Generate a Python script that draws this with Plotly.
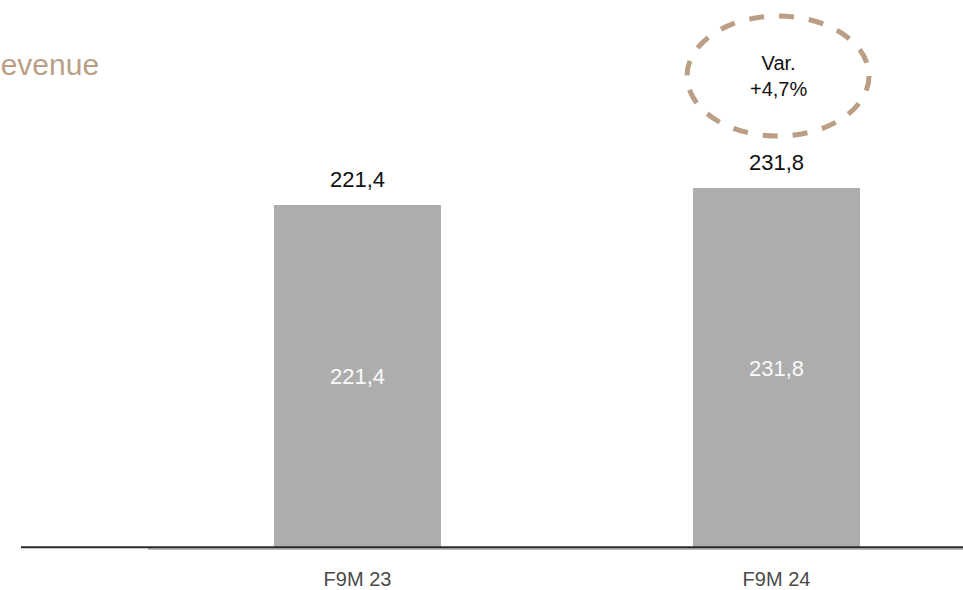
import plotly.graph_objects as go

categories = ["F9M 23", "F9M 24"]
values = [221.4, 231.8]
value_labels = ["221,4", "231,8"]
title_text = "Revenue"
variation_text = "Var.<br>+4,7%"

BAR = "#ADADAD"
TAN = "#BA9F86"
FONT = "Liberation Sans, Arial, sans-serif"

xpos = list(range(len(categories)))

fig = go.Figure()
fig.add_trace(go.Bar(
    x=xpos, y=values, width=0.4, marker=dict(color=BAR, line=dict(width=0)),
    text=value_labels, textposition="inside", insidetextanchor="middle",
    textfont=dict(color="#FAFAFA", size=22, family=FONT),
    hoverinfo="skip", showlegend=False,
))

for x, v, lab in zip(xpos, values, value_labels):
    fig.add_annotation(x=x, y=v, xref="x", yref="y", text=lab, showarrow=False,
                       xanchor="center", yanchor="bottom", yshift=11,
                       font=dict(size=22, color="#111111", family=FONT))

# title (partially cut off at left edge, as in reference)
fig.add_annotation(xref="paper", yref="paper", x=(-23 - 148) / 815, y=1 - 65 / 548,
                   xanchor="left", yanchor="middle", text=title_text, showarrow=False,
                   font=dict(size=30, color=TAN, family=FONT))

# variation bubble
fig.add_shape(type="circle", xref="paper", yref="paper",
              x0=(687 - 148) / 815, x1=(869 - 148) / 815,
              y0=1 - 136 / 548, y1=1 - 16 / 548,
              line=dict(color=TAN, width=5, dash="dash"))
fig.add_annotation(xref="paper", yref="paper", x=(778 - 148) / 815, y=1 - 76 / 548,
                   xanchor="center", yanchor="middle",
                   text=variation_text, showarrow=False, align="center",
                   font=dict(size=20, color="#111111", family=FONT))

# dark baseline
fig.add_shape(type="line", xref="paper", yref="paper",
              x0=(21 - 148) / 815, x1=1.0, y0=0.0015, y1=0.0015,
              line=dict(color="#2A2A2A", width=2))

fig.update_layout(
    width=963, height=590,
    margin=dict(l=148, r=0, t=0, b=42),
    plot_bgcolor="white", paper_bgcolor="white",
    bargap=0,
    xaxis=dict(range=[-0.5, -0.5 + 815 / 419], tickvals=xpos, ticktext=categories,
               showgrid=False, zeroline=False, showline=True, linecolor="#BDBDBD",
               linewidth=2, ticks="", ticklabelstandoff=12,
               tickfont=dict(size=20, color="#4A4A4A", family=FONT)),
    yaxis=dict(range=[0, 548 / 1.551], visible=False, showgrid=False, zeroline=False),
)

fig.write_html("out.html")
